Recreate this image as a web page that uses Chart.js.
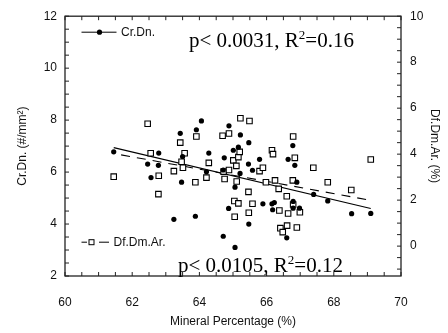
<!DOCTYPE html>
<html><head><meta charset="utf-8">
<script src="https://cdn.jsdelivr.net/npm/chart.js@4/dist/chart.umd.min.js"></script>
<style>html,body{margin:0;padding:0;background:#fff;}#wrap{width:448px;height:333px;}</style>
</head><body><div id="wrap"><canvas id="c" width="448" height="333"></canvas></div>
<script>
// ---- data ----
const crX = [61.45,62.46,62.56,62.79,62.78,63.24,63.43,63.50,63.47,63.91,63.88,64.06,64.28,64.21,64.71,64.74,64.71,64.88,64.87,65.01,65.06,65.06,65.16,65.22,65.21,65.47,65.46,65.47,65.58,65.79,65.89,66.16,66.23,66.18,66.64,66.78,66.84,66.79,66.79,66.90,66.98,66.60,67.40,67.82,68.53,69.10];
const crY = [6.78,6.31,5.79,6.73,6.26,4.18,7.49,6.60,5.61,7.63,4.30,7.97,6.73,6.01,3.53,6.55,6.08,7.78,4.60,6.84,5.42,3.10,6.96,7.43,5.95,7.13,6.31,4.00,6.07,6.49,4.78,4.78,4.83,4.55,6.49,7.02,6.26,4.87,4.61,5.61,4.61,3.47,5.14,4.89,4.40,4.41];
const dfX = [61.45,62.46,62.55,62.79,62.78,63.24,63.43,63.47,63.56,63.51,63.88,63.91,64.21,64.28,64.69,64.88,64.72,64.75,64.88,65.01,65.10,65.16,65.20,65.11,65.04,65.16,65.05,65.22,65.49,65.46,65.58,65.47,65.79,65.89,65.98,66.16,66.19,66.25,66.36,66.38,66.60,66.64,66.41,66.48,66.61,66.79,66.84,66.78,66.79,66.99,66.90,67.39,67.82,68.52,69.10];
const dfY = [3.02,5.32,4.04,3.06,2.26,3.26,4.50,3.67,4.04,3.41,2.78,4.77,2.98,3.62,4.80,4.90,3.24,2.92,3.31,3.73,3.49,3.87,4.10,2.81,1.96,1.86,1.28,5.56,5.44,2.36,1.84,1.45,3.26,3.41,2.78,4.17,4.00,2.86,2.49,1.55,2.17,1.42,0.78,0.61,0.89,4.77,3.84,2.86,1.81,1.47,0.81,3.41,2.78,2.44,3.77];
const fitCrX = [61.45, 69.10];
const fitCrY = [6.94, 4.60];
const fitDfX = [61.67, 69.10];
const fitDfY = [3.97, 1.99];
const xTicks = [60,62,64,66,68,70];
const leftTicks = [2,4,6,8,10,12];
const rightTicks = [0,2,4,6,8,10];
const xTitle = 'Mineral Percentage (%)';
const leftTitle = 'Cr.Dn. (#/mm\u00B2)';
const rightTitle = 'Df.Dm.Ar. (%)';
const crName = 'Cr.Dn.';
const dfName = 'Df.Dm.Ar.';
const statTop = ['p< 0.0031, R', '2', '=0.16'];
const statBottom = ['p< 0.0105, R', '2', '=0.12'];

const pts = (xs, ys) => xs.map((x, i) => ({x: x, y: ys[i]}));
const SANS = "'Liberation Sans', Arial, sans-serif";
const SERIF = "'Liberation Serif', 'Times New Roman', serif";
const INK = '#111';

const decor = {
  id: 'decor',
  afterDraw(chart) {
    const {ctx, chartArea: a, scales} = chart;
    ctx.save();
    ctx.strokeStyle = '#222';
    ctx.lineWidth = 1.3;
    ctx.strokeRect(a.left, a.top, a.right - a.left, a.bottom - a.top);
    const seg = (x1, y1, x2, y2) => { ctx.beginPath(); ctx.moveTo(x1, y1); ctx.lineTo(x2, y2); ctx.stroke(); };
    ctx.lineWidth = 1;
    const xs = scales.x, yl = scales.y, yr = scales.y2;
    for (let v = xs.min; v <= xs.max + 1e-6; v += 0.5) {
      const p = xs.getPixelForValue(v); const L = 4;
      seg(p, a.bottom, p, a.bottom - L); seg(p, a.top, p, a.top + L);
    }
    for (let v = yl.min; v <= yl.max + 1e-6; v += 0.5) {
      const p = yl.getPixelForValue(v); const L = 4;
      seg(a.left, p, a.left + L, p);
    }
    for (let v = 10; v >= yr.min - 1e-6; v -= 0.5) {
      const p = yr.getPixelForValue(v); const L = 4;
      seg(a.right, p, a.right - L, p);
    }
    // legend (top)
    ctx.strokeStyle = '#000'; ctx.lineWidth = 1;
    const ly1 = a.top + 16;
    seg(a.left + 16.5, ly1, a.left + 51.5, ly1);
    ctx.fillStyle = '#000';
    ctx.beginPath(); ctx.arc(a.left + 34.5, ly1, 2.6, 0, Math.PI * 2); ctx.fill();
    ctx.font = '12px ' + SANS; ctx.fillStyle = INK; ctx.textBaseline = 'middle'; ctx.textAlign = 'left';
    ctx.fillText(crName, a.left + 56, ly1 + 0.5);
    // legend (bottom)
    const ly2 = a.top + 226;
    seg(a.left + 16.5, ly2, a.left + 22, ly2);
    ctx.strokeRect(a.left + 24, ly2 - 2.5, 5, 5);
    seg(a.left + 34, ly2, a.left + 44, ly2);
    ctx.fillText(dfName, a.left + 48.5, ly2 + 0.5);
    // stats text
    const drawStat = (parts, x, y) => {
      ctx.textBaseline = 'alphabetic'; ctx.fillStyle = '#000';
      ctx.font = '21px ' + SERIF; ctx.fillText(parts[0], x, y);
      let w = ctx.measureText(parts[0]).width;
      ctx.font = '13px ' + SERIF; ctx.fillText(parts[1], x + w, y - 8);
      w += ctx.measureText(parts[1]).width;
      ctx.font = '21px ' + SERIF; ctx.fillText(parts[2], x + w, y);
    };
    drawStat(statTop, 189, 47);
    drawStat(statBottom, 178, 272);
    ctx.restore();
  }
};

new Chart(document.getElementById('c'), {
  type: 'scatter',
  data: {
    datasets: [
      {label: crName, data: pts(crX, crY), yAxisID: 'y', pointStyle: 'circle', pointRadius: 2.6, backgroundColor: '#000', borderColor: '#000', borderWidth: 0},
      {label: dfName, data: pts(dfX, dfY), yAxisID: 'y2', pointStyle: 'rect', pointRadius: 3.9, backgroundColor: '#fff', borderColor: '#000', borderWidth: 1.1},
      {label: 'fitCr', data: pts(fitCrX, fitCrY), yAxisID: 'y', showLine: true, pointRadius: 0, borderColor: '#000', borderWidth: 1.1, fill: false},
      {label: 'fitDf', data: pts(fitDfX, fitDfY), yAxisID: 'y2', showLine: true, pointRadius: 0, borderColor: '#000', borderWidth: 1.1, borderDash: [9, 7], fill: false}
    ]
  },
  options: {
    responsive: false, animation: false, devicePixelRatio: 1,
    layout: {padding: {top: 13, left: 0, right: 0, bottom: 0}},
    plugins: {legend: {display: false}, tooltip: {enabled: false}},
    scales: {
      x: {
        type: 'linear', position: 'bottom', min: 60, max: 70,
        afterBuildTicks: s => { s.ticks = xTicks.map(v => ({value: v})); },
        afterFit: s => { s.height = 57; },
        grid: {display: false, drawTicks: false}, border: {display: false},
        ticks: {font: {family: SANS, size: 12}, color: INK, padding: 19, maxRotation: 0},
        title: {display: true, text: xTitle, font: {family: SANS, size: 12}, color: INK, padding: {top: 0, bottom: 4}}
      },
      y: {
        type: 'linear', position: 'left', min: 2, max: 12,
        afterBuildTicks: s => { s.ticks = leftTicks.map(v => ({value: v})); },
        afterFit: s => { s.width = 65; },
        grid: {display: false, drawTicks: false}, border: {display: false},
        ticks: {font: {family: SANS, size: 12}, color: INK, padding: 8},
        title: {display: true, text: leftTitle, font: {family: SANS, size: 12}, color: INK, padding: {top: 15, bottom: 0}}
      },
      y2: {
        type: 'linear', position: 'right', min: -1.3, max: 10,
        afterBuildTicks: s => { s.ticks = rightTicks.map(v => ({value: v})); },
        afterFit: s => { s.width = 47; },
        grid: {display: false, drawTicks: false}, border: {display: false},
        ticks: {font: {family: SANS, size: 12}, color: INK, padding: 9},
        title: {display: true, text: rightTitle, font: {family: SANS, size: 12}, color: INK, padding: {top: 6, bottom: 0}}
      }
    }
  },
  plugins: [decor]
});
</script></body></html>
